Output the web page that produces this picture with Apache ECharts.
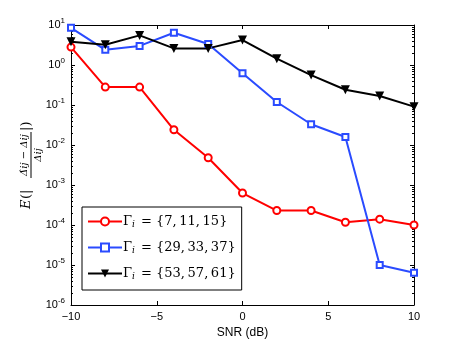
<!DOCTYPE html>
<html>
<head>
<meta charset="utf-8">
<script src="https://cdn.jsdelivr.net/npm/echarts@6/dist/echarts.min.js"></script>
<style>
html, body { margin: 0; padding: 0; background: #fff; }
#chart { width: 457px; height: 344px; }
</style>
</head>
<body>
<div id="chart"></div>
<script>
// SNR values on the x axis
var snr = [-10, -8, -6, -4, -2, 0, 2, 4, 6, 8, 10];
// mean relative error per set of Gamma_i
var errSet1 = [2.8, 0.28, 0.28, 0.024, 0.0048, 6.3e-4, 2.3e-4, 2.3e-4, 1.17e-4, 1.4e-4, 1.0e-4];
var errSet2 = [8.5, 2.4, 3.0, 6.4, 3.35, 0.62, 0.119, 0.033, 0.0158, 1.0e-5, 6.4e-6];
var errSet3 = [3.8, 3.2, 5.5, 2.6, 2.6, 4.2, 1.44, 0.56, 0.24, 0.168, 0.091];
var seriesNames = ['set1', 'set2', 'set3'];
var seriesSets = ['{7,\u200911,\u200915}', '{29,\u200933,\u200937}', '{53,\u200957,\u200961}'];
var xTicks = [-10, -5, 0, 5, 10];
var yMajor = [1e-6, 1e-5, 1e-4, 1e-3, 1e-2, 1e-1, 1, 10];

var yMinor = []
for (var d = -6; d < 1; d++) {
    for (var k = 2; k < 10; k++) {
        yMinor.push(k * Math.pow(10, d))
    }
}

function pairs(ys) {
    return snr.map(function (x, i) { return [x, ys[i]] })
}

var font = 'Liberation Sans, Arial, sans-serif'
var serif = 'DejaVu Serif, Liberation Serif, serif'

function logAxis(extra) {
    var a = {
        type: 'log',
        logBase: 10,
        min: 1e-6,
        max: 10,
        axisLine: { show: false, onZero: false },
        axisLabel: { show: false },
        splitLine: { show: false }
    }
    for (var key in extra) a[key] = extra[key]
    return a
}

var chart = echarts.init(document.getElementById('chart'))
chart.setOption({
    animation: false,
    backgroundColor: '#fff',
    grid: { left: 71, right: 43, top: 25, bottom: 39 },
    legend: {
        data: seriesNames,
        orient: 'vertical',
        left: 82,
        top: 207,
        backgroundColor: '#fff',
        borderColor: '#000',
        borderWidth: 1,
        borderRadius: 0,
        padding: [8, 6, 9, 5],
        itemGap: 12,
        itemWidth: 34,
        itemHeight: 10,
        formatter: function (name) {
            var i = seriesNames.indexOf(name)
            return '{g|Γ}{s|i} = ' + seriesSets[i]
        },
        textStyle: {
            fontFamily: serif,
            fontSize: 13,
            color: '#000',
            padding: [0, 0, 0, -4],
            rich: {
                g: { fontFamily: serif, fontSize: 13, color: '#000' },
                s: { fontFamily: serif, fontStyle: 'italic', fontSize: 9, color: '#000', padding: [6, 2, 0, 0] }
            }
        }
    },
    xAxis: [{
        type: 'value',
        min: -10,
        max: 10,
        interval: 5,
        name: 'SNR (dB)',
        nameLocation: 'middle',
        nameGap: 21,
        nameTextStyle: { fontFamily: font, fontSize: 12, color: '#000' },
        axisLine: { onZero: false, lineStyle: { color: '#000', width: 1 } },
        axisTick: { inside: true, length: 4, lineStyle: { color: '#000' }, customValues: xTicks },
        axisLabel: {
            fontFamily: font, fontSize: 11, color: '#000', margin: 6,
            customValues: xTicks,
            formatter: function (v) { return v < 0 ? '\u2212' + Math.abs(v) : '' + v }
        },
        splitLine: { show: false }
    }, {
        type: 'value',
        position: 'top',
        min: -10,
        max: 10,
        interval: 5,
        axisLine: { onZero: false, lineStyle: { color: '#000', width: 1 } },
        axisTick: { inside: true, length: 4, lineStyle: { color: '#000' } },
        axisLabel: { show: false },
        splitLine: { show: false }
    }],
    yAxis: [
        logAxis({
            position: 'left',
            axisLine: { show: true, onZero: false, lineStyle: { color: '#000', width: 1 } },
            axisTick: { inside: true, length: 4, lineStyle: { color: '#000' }, customValues: yMajor },
            axisLabel: {
                customValues: yMajor,
                margin: 6,
                formatter: function (v) {
                    var e = Math.round(Math.log(v) / Math.LN10)
                    return '{b|10}{e|' + e + '}'
                },
                rich: {
                    b: { fontFamily: font, fontSize: 11, color: '#000' },
                    e: { fontFamily: font, fontSize: 8, color: '#000', padding: [0, 0, 8, 0] }
                }
            }
        }),
        logAxis({
            position: 'left',
            axisTick: { inside: true, length: 2, lineStyle: { color: '#000' }, customValues: yMinor }
        }),
        logAxis({
            position: 'right',
            axisLine: { show: true, onZero: false, lineStyle: { color: '#000', width: 1 } },
            axisTick: { inside: true, length: 4, lineStyle: { color: '#000' }, customValues: yMajor }
        }),
        logAxis({
            position: 'right',
            axisTick: { inside: true, length: 2, lineStyle: { color: '#000' }, customValues: yMinor }
        })
    ],
    graphic: [{
        type: 'group',
        x: 31,
        y: 165,
        rotation: Math.PI / 2,
        children: [
            { type: 'text', x: -44, y: -4, style: { text: 'E', font: 'italic 13px ' + serif, fill: '#000', textVerticalAlign: 'middle' } },
            { type: 'text', x: -34, y: -4, style: { text: '(|', font: '13px ' + serif, fill: '#000', textVerticalAlign: 'middle' } },
            { type: 'text', x: 10, y: -7, style: { text: 'Δ\u0302ij \u2212 Δij', font: 'italic 10px ' + serif, fill: '#000', textAlign: 'center', textVerticalAlign: 'middle' } },
            { type: 'line', shape: { x1: -13, y1: 0, x2: 33, y2: 0 }, style: { stroke: '#000', lineWidth: 1 } },
            { type: 'text', x: 10, y: 7, style: { text: 'Δij', font: 'italic 10px ' + serif, fill: '#000', textAlign: 'center', textVerticalAlign: 'middle' } },
            { type: 'text', x: 34, y: -4, style: { text: '|)', font: '13px ' + serif, fill: '#000', textVerticalAlign: 'middle' } }
        ]
    }],
    series: [{
        name: 'set1',
        type: 'line',
        data: pairs(errSet1),
        symbol: 'emptyCircle',
        symbolSize: 7,
        color: '#ff0000',
        lineStyle: { width: 2, color: '#ff0000' },
        itemStyle: { color: '#ff0000', borderWidth: 1.5 }
    }, {
        name: 'set2',
        type: 'line',
        data: pairs(errSet2),
        symbol: 'emptyRect',
        symbolSize: 6,
        color: '#2a4bff',
        lineStyle: { width: 2, color: '#2a4bff' },
        itemStyle: { color: '#2a4bff', borderWidth: 1.5 }
    }, {
        name: 'set3',
        type: 'line',
        data: pairs(errSet3),
        symbol: 'triangle',
        symbolRotate: 180,
        symbolSize: 9,
        color: '#000',
        lineStyle: { width: 2, color: '#000' },
        itemStyle: { color: '#000' }
    }]
})
</script>
</body>
</html>
